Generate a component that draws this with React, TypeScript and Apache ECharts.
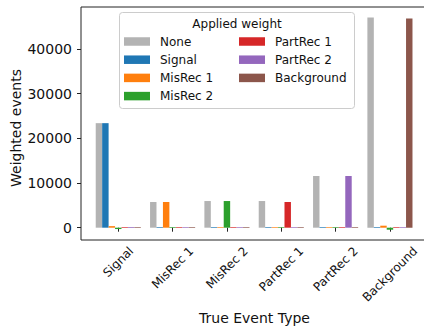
import React, { useEffect, useRef } from "react";
import * as echarts from "echarts";

const categories = ["Signal", "MisRec 1", "MisRec 2", "PartRec 1", "PartRec 2", "Background"];
const seriesNames = ["None", "Signal", "MisRec 1", "MisRec 2", "PartRec 1", "PartRec 2", "Background"];
const noneVals = [23400, 5750, 5970, 5970, 11570, 47070];
const signalVals = [23400, 150, 150, 150, 150, 150];
const misRec1Vals = [350, 5750, 150, 150, 150, 450];
const misRec2Vals = [-300, 150, 5970, 150, 150, -450];
const partRec1Vals = [150, 150, 150, 5750, 150, 150];
const partRec2Vals = [150, 150, 150, 150, 11570, 150];
const backgroundVals = [150, 150, 150, 150, 150, 46840];
const yTicks = [0, 10000, 20000, 30000, 40000];

const colors = ["#b3b3b3", "#1f77b4", "#ff7f0e", "#2ca02c", "#d62728", "#9467bd", "#8c564b"];
const allVals = [noneVals, signalVals, misRec1Vals, misRec2Vals, partRec1Vals, partRec2Vals, backgroundVals];

const FONT = "DejaVu Sans";

export default function App() {
  const ref = useRef<HTMLDivElement>(null);
  useEffect(() => {
    if (!ref.current) return;
    const chart = echarts.init(ref.current, null, { renderer: "svg" });

    const canvas = document.createElement("canvas");
    const ctx = canvas.getContext("2d")!;
    const xfs = 12;
    ctx.font = `${xfs}px "${FONT}"`;
    const lh = 14;
    const rich: Record<string, any> = {};
    categories.forEach((c, i) => {
      const L = ctx.measureText(c).width;
      const P = (L + lh) / 2;
      rich["l" + i] = {
        fontFamily: FONT,
        fontSize: xfs,
        lineHeight: lh,
        color: "#111",
        padding: [P, P, 0, 0],
      };
    });

    const option: any = {
      animation: false,
      grid: [
        {
          left: 81, top: 7, width: 347, height: 233,
          show: true, borderColor: "#222", borderWidth: 1,
          backgroundColor: "transparent",
          outerBoundsMode: "none", containLabel: false,
        },
        {
          left: 91.1, top: 7, width: 326.0, height: 233,
          outerBoundsMode: "none", containLabel: false,
        },
      ],
      xAxis: [
        {
          gridIndex: 0, type: "value", min: 0, max: 1,
          axisLine: { show: false }, axisTick: { show: false },
          axisLabel: { show: false }, splitLine: { show: false },
          name: "True Event Type", nameLocation: "middle", nameGap: 71,
          nameTextStyle: { fontFamily: FONT, fontSize: 14, color: "#111", verticalAlign: "top" },
        },
        {
          gridIndex: 1, type: "category", data: categories,
          axisLine: { show: false },
          axisTick: { show: true, alignWithLabel: true, length: 4, lineStyle: { color: "#222", width: 1 } },
          axisLabel: {
            interval: 0, rotate: 45, margin: 4, align: "center", verticalAlign: "middle",
            formatter: (v: string, i: number) => `{l${i}|${v}}`,
            rich,
          },
          splitLine: { show: false },
        },
      ],
      yAxis: [
        {
          gridIndex: 0, type: "value", min: 0, max: 1,
          axisLine: { show: false }, axisTick: { show: false },
          axisLabel: { show: false }, splitLine: { show: false },
          name: "Weighted events", nameLocation: "middle", nameGap: 58,
          nameTextStyle: { fontFamily: FONT, fontSize: 14, color: "#111", padding: [0, 9, 0, 0] },
        },
        {
          gridIndex: 1, type: "value", min: -2753, max: 49401, offset: 10.1,
          axisLine: { show: false },
          axisTick: { show: true, length: 4, customValues: yTicks, lineStyle: { color: "#222", width: 1 } },
          axisLabel: {
            customValues: yTicks, margin: 9, fontFamily: FONT, fontSize: 14, color: "#111",
            formatter: (v: number) => String(v),
          },
          splitLine: { show: false },
        },
      ],
      legend: [
        {
          data: seriesNames.slice(0, 4), orient: "vertical", left: 124, top: 34.5, padding: 0,
          itemWidth: 26, itemHeight: 8.5, itemGap: 4.2, icon: "rect", selectedMode: false, z: 5,
          textStyle: { fontFamily: FONT, fontSize: 12, lineHeight: 14, color: "#111", padding: [0, 0, 0, 5] },
        },
        {
          data: seriesNames.slice(4), orient: "vertical", left: 239, top: 34.5, padding: 0,
          itemWidth: 26, itemHeight: 8.5, itemGap: 4.2, icon: "rect", selectedMode: false, z: 5,
          textStyle: { fontFamily: FONT, fontSize: 12, lineHeight: 14, color: "#111", padding: [0, 0, 0, 5] },
        },
      ],
      graphic: [
        {
          type: "rect", z: 1,
          shape: { x: 119.5, y: 12.5, width: 235, height: 96, r: 3 },
          style: { fill: "rgba(255,255,255,0.8)", stroke: "#cccccc", lineWidth: 1 },
        },
        {
          type: "text", z: 2, x: 237, y: 23.5,
          style: { text: "Applied weight", fontFamily: FONT, fontSize: 12, fill: "#111", align: "center", verticalAlign: "middle" },
        },
      ],
      series: seriesNames.map((name, i) => ({
        type: "bar", name, xAxisIndex: 1, yAxisIndex: 1,
        data: allVals[i],
        itemStyle: { color: colors[i] },
        barGap: "0%", barCategoryGap: "17%",
      })),
    };
    chart.setOption(option);
    return () => chart.dispose();
  }, []);
  return <div ref={ref} style={{ width: 424, height: 327, position: "absolute", left: 0, top: 0 }} />;
}
